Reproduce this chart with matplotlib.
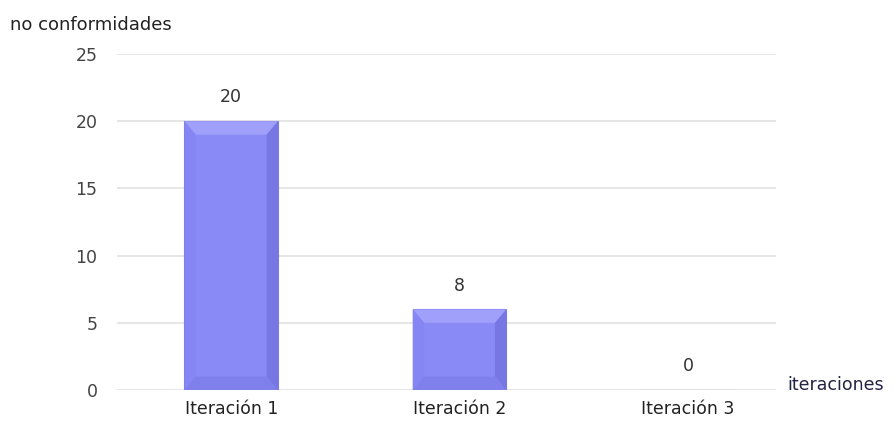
import matplotlib
matplotlib.use('Agg')
from matplotlib import pyplot as plt
from matplotlib.patches import Polygon

plt.rcParams['font.family'] = ['DejaVu Sans']

# datos
categorias = ['Iteración 1', 'Iteración 2', 'Iteración 3']
valores = [20, 6, 0]
etiquetas = ['20', '8', '0']

fig = plt.figure(figsize=(8.96, 4.21), dpi=100)
ax = fig.add_axes([0.1306, 0.0736, 0.7355, 0.798])

x = list(range(len(categorias)))
ancho = 0.41
barras = ax.bar(x, valores, width=ancho, color='#8a8af7', edgecolor='#7b7be6',
                linewidth=0.8, zorder=3)

# efecto biselado
bx = 0.05
by = 1.0
for b in barras:
    h = b.get_height()
    if h <= 0:
        continue
    x0 = b.get_x()
    x1 = x0 + b.get_width()
    # arriba (claro)
    ax.add_patch(Polygon([(x0, h), (x1, h), (x1 - bx, h - by), (x0 + bx, h - by)],
                         closed=True, facecolor='#a0a0fb', edgecolor='none', zorder=4))
    # derecha (oscuro)
    ax.add_patch(Polygon([(x1, h), (x1, 0), (x1 - bx, by), (x1 - bx, h - by)],
                         closed=True, facecolor='#7777e3', edgecolor='none', zorder=4))
    # izquierda
    ax.add_patch(Polygon([(x0, h), (x0, 0), (x0 + bx, by), (x0 + bx, h - by)],
                         closed=True, facecolor='#8585f4', edgecolor='none', zorder=4))
    # abajo
    ax.add_patch(Polygon([(x0, 0), (x1, 0), (x1 - bx, by), (x0 + bx, by)],
                         closed=True, facecolor='#8080ec', edgecolor='none', zorder=4))

for i, (v, t) in enumerate(zip(valores, etiquetas)):
    ax.text(i, v + 1.1, t, ha='center', va='bottom', fontsize=12.5, color='#333333')

ax.set_ylim(0, 25)
ax.set_xlim(-0.5, 2.386)
ax.set_yticks([0, 5, 10, 15, 20, 25])
ax.set_xticks(x)
ax.set_xticklabels(categorias)
ax.yaxis.grid(True, color='#e2e2e2', linewidth=1.2, zorder=0)
ax.set_axisbelow(True)
for s in ax.spines.values():
    s.set_visible(False)
ax.tick_params(axis='y', length=0, pad=14, labelsize=12.5, labelcolor='#444444')
ax.tick_params(axis='x', length=0, pad=7, labelsize=12.5, labelcolor='#222222')

fig.text(0.011, 0.94, 'no conformidades', fontsize=13, color='#222222', va='center')
fig.text(0.879, 0.085, 'iteraciones', fontsize=12.5, color='#222244', va='center')

plt.savefig('out.png', dpi=100)
